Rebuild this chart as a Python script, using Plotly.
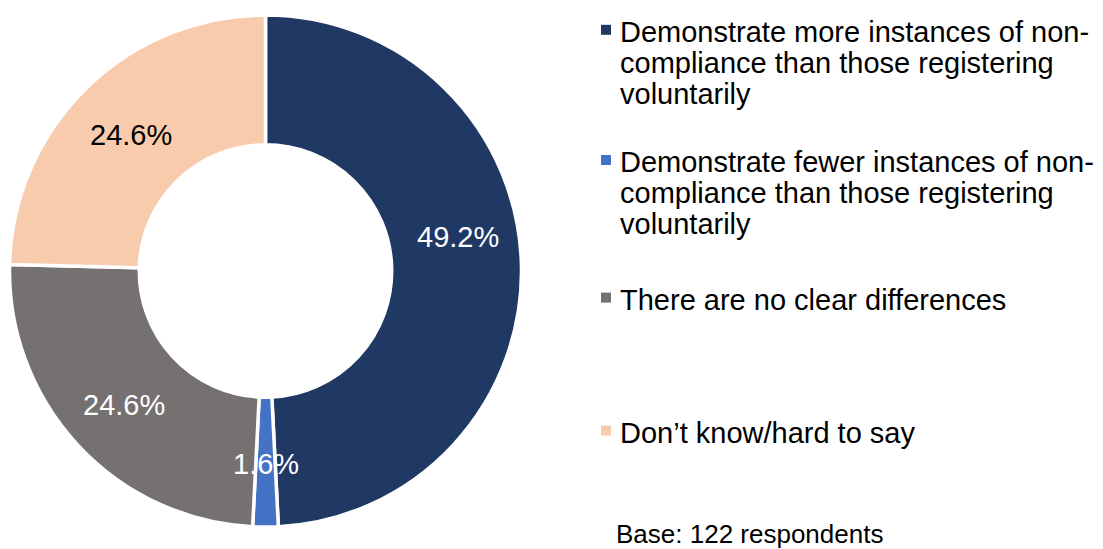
import math
import textwrap
import plotly.graph_objects as go

# Survey responses (share of respondents, %)
categories = [
    "Demonstrate more instances of non-compliance than those registering voluntarily",
    "Demonstrate fewer instances of non-compliance than those registering voluntarily",
    "There are no clear differences",
    "Don\u2019t know/hard to say",
]
shares = [49.2, 1.6, 24.6, 24.6]
base_note = "Base: 122 respondents"

colors = ["#203864", "#4472C4", "#767171", "#F8CBAD"]
label_colors = ["white", "white", "white", "black"]

W, H = 1103, 549
FONT = "Liberation Sans, Arial, sans-serif"

# Donut geometry in pixels
cx, cy, R = 265.5, 271.0, 256.0
HOLE = 0.493
LABEL_R = 193.0
label_nudge = [(0, -29), (0, 0), (0, 3), (0, 2)]

# Legend layout in pixels
LEG_X_BOX = 606
LEG_X_TEXT = 618
LEG_FIRST_LINE_Y = [31.8, 162.0, 299.6, 432.6]
LEG_LINE_STEP = 31.2
LEG_BOX = 10


def px(x):
    return x / W


def py(y):
    return 1 - y / H


fig = go.Figure(
    go.Pie(
        labels=categories,
        values=shares,
        sort=False,
        direction="clockwise",
        rotation=0,
        hole=HOLE,
        marker=dict(colors=colors, line=dict(color="white", width=3.5)),
        textinfo="none",
        hoverinfo="label+value",
        domain=dict(x=[px(cx - R), px(cx + R)], y=[py(cy + R), py(cy - R)]),
        showlegend=False,
    )
)

annotations = []
shapes = []

# Percentage labels at the middle of each ring segment
total = sum(shares)
start = 0.0
for i, v in enumerate(shares):
    mid = (start + v / 2) / total * 2 * math.pi
    start += v
    lx = cx + LABEL_R * math.sin(mid) + label_nudge[i][0]
    ly = cy - LABEL_R * math.cos(mid) + label_nudge[i][1]
    annotations.append(
        dict(
            x=px(lx), y=py(ly), xref="paper", yref="paper",
            text=f"{v:.1f}%", showarrow=False,
            xanchor="center", yanchor="middle",
            font=dict(family=FONT, size=29, color=label_colors[i]),
        )
    )

# Legend: colour squares and wrapped category names
for i, name in enumerate(categories):
    lines = textwrap.wrap(name, width=35, break_on_hyphens=True)
    y0 = LEG_FIRST_LINE_Y[i]
    shapes.append(
        dict(
            type="rect", xref="paper", yref="paper",
            x0=px(LEG_X_BOX - LEG_BOX / 2), x1=px(LEG_X_BOX + LEG_BOX / 2),
            y0=py(y0 - 2 + LEG_BOX / 2), y1=py(y0 - 2 - LEG_BOX / 2),
            fillcolor=colors[i], line=dict(width=0),
        )
    )
    for j, line in enumerate(lines):
        annotations.append(
            dict(
                x=px(LEG_X_TEXT), y=py(y0 + j * LEG_LINE_STEP),
                xref="paper", yref="paper", text=line, showarrow=False,
                xanchor="left", yanchor="middle",
                font=dict(family=FONT, size=29, color="black"),
            )
        )

# Sample size note under the legend
annotations.append(
    dict(
        x=px(614), y=py(533.5), xref="paper", yref="paper",
        text=base_note, showarrow=False, xanchor="left", yanchor="middle",
        font=dict(family=FONT, size=26, color="black"),
    )
)

fig.update_layout(
    width=W, height=H,
    margin=dict(l=0, r=0, t=0, b=0),
    paper_bgcolor="white", plot_bgcolor="white",
    annotations=annotations, shapes=shapes,
)

fig.write_html("out.html")
